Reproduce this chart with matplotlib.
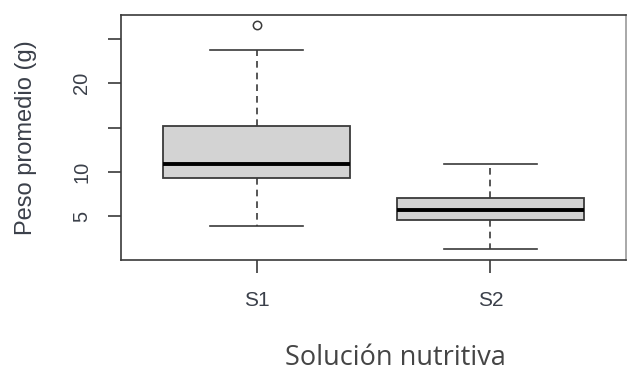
import matplotlib
matplotlib.use("Agg")
import matplotlib.pyplot as plt

# ---- datos ----
grupos = ["S1", "S2"]
bigote_inf = [3.9, 1.25]
q1 = [9.25, 4.55]
mediana = [10.9, 5.7]
q3 = [15.2, 7.1]
bigote_sup = [23.7, 10.9]
atipicos = [[26.6], []]

y_ticks = [5, 10, 15, 20, 25]
y_ticklabels = ["5", "10", "", "20", ""]

COLOR_TXT = "#3b404a"
COLOR_LIN = "#3a3a3a"

stats = []
for i, g in enumerate(grupos):
    stats.append(dict(label=g, whislo=bigote_inf[i], q1=q1[i], med=mediana[i],
                      q3=q3[i], whishi=bigote_sup[i], fliers=atipicos[i]))

fig = plt.figure(figsize=(6.27, 3.72), dpi=100)
ax = fig.add_axes([121 / 627, 1 - 260 / 372, 505 / 627, 245 / 372])

ax.bxp(
    stats, positions=[1, 2], widths=0.8, capwidths=0.4, patch_artist=True,
    boxprops=dict(facecolor="#d3d3d3", edgecolor=COLOR_LIN, linewidth=1.3),
    medianprops=dict(color="black", linewidth=2.8, solid_capstyle="butt"),
    whiskerprops=dict(color=COLOR_LIN, linewidth=1.2, linestyle=(0, (4, 3))),
    capprops=dict(color=COLOR_LIN, linewidth=1.2),
    flierprops=dict(marker="o", markersize=6, markerfacecolor="none",
                    markeredgecolor=COLOR_LIN, markeredgewidth=1.1),
)

ax.set_xlim(0.42, 2.58)
ax.set_ylim(0.05, 27.7)
ax.set_xticks([1, 2])
ax.set_yticks(y_ticks)

for s in ax.spines.values():
    s.set_color(COLOR_LIN)
    s.set_linewidth(1.2)
ax.spines["right"].set_color("#9a9a9a")

ax.tick_params(axis="both", length=9.5, width=1.2, color=COLOR_LIN,
               labelcolor=COLOR_TXT, labelfontfamily="Liberation Sans")
ax.tick_params(axis="x", pad=13, labelsize=15)
ax.tick_params(axis="y", pad=12, labelsize=14.5)
ax.set_xticklabels(grupos, fontsize=15, family="Liberation Sans")
ax.set_yticklabels(y_ticklabels, rotation=90, va="center", fontsize=14.5,
                   family="Liberation Sans")

ax.set_ylabel("Peso promedio (g)", fontsize=17, color=COLOR_TXT,
              family="Liberation Sans")
ax.yaxis.set_label_coords(-0.166, 0.5)

# etiqueta del eje x (tipografía distinta, añadida fuera de R)
fig.text(395.5 / 627, 1 - 365 / 372, "Solución nutritiva", fontsize=19.5,
         color="#454545", family="Open Sans", ha="center", va="baseline")

fig.savefig("out.png", dpi=100, facecolor="white")
